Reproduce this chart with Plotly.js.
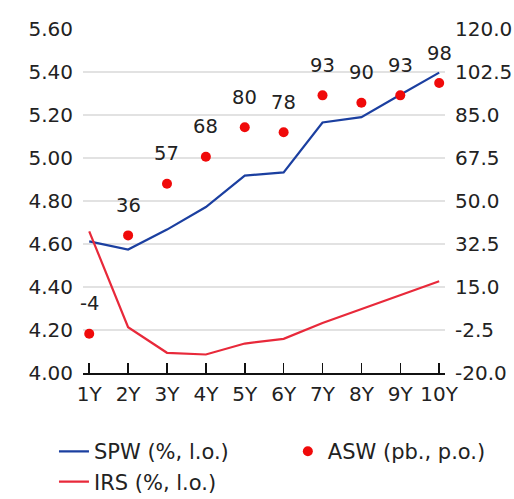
<!DOCTYPE html>
<html>
<head>
<meta charset="utf-8">
<script src="https://cdn.plot.ly/plotly-3.0.1.min.js"></script>
<style>html,body{margin:0;padding:0;background:#fff;}#chart{width:514px;height:499px;}</style>
</head>
<body>
<div id="chart"></div>
<script>
const categories = ["1Y","2Y","3Y","4Y","5Y","6Y","7Y","8Y","9Y","10Y"];
const spw = [4.612, 4.574, 4.667, 4.772, 4.918, 4.933, 5.165, 5.190, 5.294, 5.397];
const irs = [4.659, 4.213, 4.094, 4.086, 4.137, 4.159, 4.233, 4.298, 4.365, 4.427];
const asw = [-4, 36, 57, 68, 80, 78, 93, 90, 93, 98];
const leftTicks = [4.0, 4.2, 4.4, 4.6, 4.8, 5.0, 5.2, 5.4, 5.6];
const rightTicks = [-20, -2.5, 15, 32.5, 50, 67.5, 85, 102.5, 120];

const FONT = "DejaVu Sans, sans-serif";
const traces = [
  {x: categories, y: spw, type: "scatter", mode: "lines", name: "SPW (%, l.o.)",
   line: {color: "#1b3fa0", width: 2.2}, yaxis: "y", legend: "legend"},
  {x: categories, y: irs, type: "scatter", mode: "lines", name: "IRS (%, l.o.)",
   line: {color: "#e8293a", width: 2.2}, yaxis: "y", legend: "legend"},
  {x: categories, y: asw, type: "scatter", mode: "markers", name: "ASW (pb., p.o.)",
   marker: {color: "#f00a0a", size: 10}, yaxis: "y2", legend: "legend2"}
];

const annotations = categories.map((c, i) => ({
  x: c, y: asw[i], xref: "x", yref: "y2", text: String(asw[i]),
  showarrow: false, yshift: 30, font: {family: FONT, size: 19.5, color: "#222"}
}));

const legendFont = {family: FONT, size: 21, color: "#222"};
const layout = {
  width: 514, height: 499,
  margin: {l: 83, r: 69, t: 29, b: 125.5, autoexpand: false},
  paper_bgcolor: "#fff", plot_bgcolor: "#fff",
  font: {family: FONT, size: 20, color: "#222"},
  showlegend: true,
  legend: {orientation: "v", xref: "container", yref: "container", x: 0.105, y: 0.136,
           xanchor: "left", yanchor: "top", font: legendFont, itemwidth: 30, bgcolor: "rgba(0,0,0,0)"},
  legend2: {orientation: "v", xref: "container", yref: "container", x: 0.56, y: 0.136,
            xanchor: "left", yanchor: "top", font: legendFont, itemwidth: 30, bgcolor: "rgba(0,0,0,0)"},
  xaxis: {type: "category", range: [-0.16, 9.15], showgrid: false, zeroline: false,
          showline: true, linecolor: "#111", linewidth: 2, automargin: false,
          ticks: "inside", ticklen: 10, tickwidth: 1.5, tickcolor: "#111",
          tickfont: {family: FONT, size: 20, color: "#222"}, ticklabelstandoff: 2},
  yaxis: {range: [4.0, 5.6], tickvals: leftTicks, ticktext: leftTicks.map(v => v.toFixed(2)),
          automargin: false,
          showgrid: true, gridcolor: "#e2e2e2", gridwidth: 1.5, zeroline: false, showline: false, ticks: "",
          tickfont: {family: FONT, size: 20, color: "#222"}, ticklabelstandoff: 9},
  yaxis2: {range: [-20, 120], tickvals: rightTicks, ticktext: rightTicks.map(v => v.toFixed(1)),
           automargin: false,
           overlaying: "y", side: "right", showgrid: false, zeroline: false, showline: false, ticks: "",
           tickfont: {family: FONT, size: 20, color: "#222"}, ticklabelstandoff: 9},
  annotations: annotations
};

Plotly.newPlot("chart", traces, layout, {displayModeBar: false, staticPlot: true});
</script>
</body>
</html>
